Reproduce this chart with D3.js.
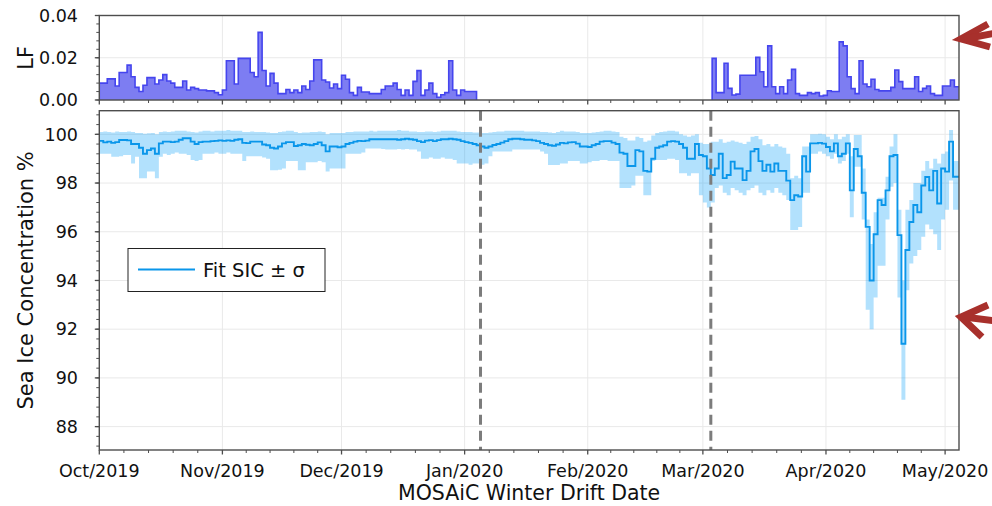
<!DOCTYPE html>
<html><head><meta charset="utf-8">
<script src="https://cdn.jsdelivr.net/npm/d3@7"></script>
<style>body{margin:0;background:#fff} svg{display:block;font-family:"DejaVu Sans",sans-serif}</style>
</head><body><svg id="c" width="992" height="506"></svg>
<script>
// ---------- data ----------
const xStart = "2019-10-01T00:00:00Z";
const xEnd = "2020-05-04T12:00:00Z";
const monthTicks = ["2019-10-01","2019-11-01","2019-12-01","2020-01-01","2020-02-01","2020-03-01","2020-04-01","2020-05-01"];
const eventDates = ["2020-01-05T00:00:00Z","2020-03-03T00:00:00Z"];
const lfTicks = [0, 0.02, 0.04];
const lfDomain = [0, 0.04];
const sicTicks = [88, 90, 92, 94, 96, 98, 100];
const sicDomain = [87.04, 100.97];

// LF, daily steps
const lfStart1 = "2019-10-01T00:00:00Z";
const lf1 = [
 0.008,0.008,0.010,0.010,0.0066,0.013,0.013,0.0165,0.011,0.006,
 0.004,0.007,0.0106,0.0106,0.0076,0.0095,0.012,0.009,0.008,0.006,
 0.006,0.009,0.0047,0.006,0.0054,0.0047,0.0047,0.0043,0.0043,0.0035,
 0.0025,0.0047,0.0186,0.0186,0.0076,0.0197,0.0197,0.0197,0.013,0.011,
 0.032,0.014,0.0066,0.0126,0.008,0.003,0.003,0.005,0.0035,0.0047,
 0.0035,0.0066,0.005,0.009,0.019,0.019,0.0095,0.0085,0.0057,0.0076,
 0.0054,0.0117,0.0098,0.0035,0.0022,0.006,0.0038,0.0038,0.003,0.003,
 0.003,0.005,0.0066,0.0066,0.008,0.005,0.0022,0.0047,0.0022,0.0088,
 0.0139,0.0022,0.0047,0.008,0.003,0.0013,0.0025,0.0035,0.0186,0.0047,
 0.0022,0.0047,0.004,0.004,0.004];
const lfStart2 = "2020-03-03T08:00:00Z";
const lf2 = [
 0.0197,0.0035,0.0035,0.0174,0.0055,0.0024,0.0028,0.0117,0.0117,0.0117,
 0.0117,0.0202,0.0134,0.0063,0.0256,0.0063,0.003,0.0063,0.003,0.0095,
 0.0145,0.003,0.0022,0.0022,0.0035,0.003,0.0035,0.0019,0.0022,0.0044,
 0.004,0.004,0.0275,0.0256,0.011,0.0054,0.003,0.0186,0.0076,0.0063,
 0.0098,0.005,0.0043,0.0043,0.0043,0.006,0.0142,0.0087,0.0054,0.0054,
 0.0054,0.011,0.004,0.0055,0.0066,0.003,0.0022,0.0022,0.0066,0.0066,
 0.0095,0.0063,0.0063];

// Sea ice concentration, daily steps
const sicStart = "2019-10-01T00:00:00Z";
const sicFit = [
 99.73,99.67,99.7,99.65,99.68,99.77,99.77,99.75,99.6,99.6,
 99.45,99.2,99.35,99.42,99.2,99.63,99.7,99.7,99.68,99.7,
 99.78,99.84,99.84,99.7,99.6,99.68,99.7,99.7,99.72,99.73,
 99.75,99.73,99.75,99.73,99.78,99.8,99.65,99.64,99.7,99.7,
 99.7,99.58,99.55,99.45,99.42,99.5,99.63,99.68,99.68,99.52,
 99.55,99.6,99.57,99.55,99.6,99.67,99.55,99.3,99.5,99.5,
 99.47,99.5,99.6,99.65,99.7,99.73,99.72,99.74,99.8,99.8,
 99.8,99.8,99.8,99.8,99.8,99.78,99.8,99.82,99.8,99.78,
 99.72,99.68,99.74,99.76,99.72,99.76,99.8,99.8,99.82,99.8,
 99.78,99.72,99.68,99.65,99.6,99.55,99.5,99.45,99.5,99.56,
 99.6,99.66,99.72,99.8,99.82,99.82,99.8,99.78,99.78,99.75,
 99.72,99.65,99.6,99.55,99.53,99.58,99.65,99.63,99.67,99.68,
 99.62,99.5,99.5,99.48,99.55,99.6,99.7,99.72,99.72,99.66,
 99.6,99.25,99.2,98.7,98.7,99.35,99.3,98.5,98.47,99.0,
 99.45,99.5,99.55,99.7,99.72,99.7,99.6,99.45,99.0,99.0,
 99.6,99.15,99.1,98.6,98.33,98.6,99.2,98.2,98.33,98.88,
 98.6,98.6,98.12,98.5,99.3,99.4,98.9,98.5,98.75,98.47,
 98.8,98.5,98.5,98.1,97.3,97.5,97.45,99.1,98.47,99.63,
 99.63,99.65,99.62,99.48,99.3,99.63,99.1,99.2,99.63,97.7,
 99.4,99.1,97.6,96.2,94.0,95.9,97.3,97.1,97.7,99.1,
 99.15,95.86,91.4,95.25,96.4,97.1,96.8,97.9,98.25,97.7,
 98.5,97.16,98.6,98.47,99.7,98.26,98.26];
const sicLo = [
 99.2,99.2,99.2,99.08,99.08,99.1,99.15,99.15,98.8,99.08,
 98.2,98.2,98.47,98.47,98.2,99.08,99.2,99.15,99.2,99.25,
 99.2,99.2,99.15,98.95,98.9,98.95,99.2,99.2,99.2,99.25,
 99.2,99.2,99.25,99.2,99.2,99.2,98.9,99.1,99.1,99.1,
 99.1,99.05,99.0,98.53,98.53,98.55,98.6,98.9,98.9,98.9,
 98.53,98.53,98.85,98.85,98.85,98.9,98.85,98.47,98.6,98.6,
 98.6,98.6,99.2,99.2,99.2,99.2,99.25,99.42,99.42,99.42,
 99.42,99.4,99.38,99.38,99.38,99.4,99.38,99.4,99.38,99.38,
 99.3,99.0,99.0,99.05,99.0,99.0,99.05,99.0,99.0,98.95,
 98.8,98.8,98.8,98.75,98.8,98.8,98.75,98.8,99.1,99.3,
 99.3,99.3,99.3,99.3,99.38,99.38,99.38,99.38,99.38,99.38,
 99.38,99.3,99.2,98.74,98.74,98.74,98.8,98.8,98.9,98.9,
 98.9,98.8,98.8,98.85,98.9,98.9,98.95,98.95,98.9,98.9,
 98.9,97.8,97.8,97.8,97.9,98.3,98.3,97.5,97.5,98.9,
 98.95,98.95,98.95,99.0,99.0,98.95,98.4,98.4,98.3,98.4,
 98.4,97.5,97.2,97.0,97.2,97.8,97.9,97.6,97.5,97.8,
 97.7,97.6,97.5,97.7,97.8,97.9,97.6,97.5,97.7,97.6,
 97.8,97.6,97.5,97.3,96.07,96.07,96.2,97.6,97.6,99.2,
 99.2,99.3,99.2,99.1,99.0,99.2,98.8,98.9,99.2,96.6,
 98.67,98.67,96.5,92.8,92.0,93.3,94.6,94.6,96.5,97.85,
 98.0,93.3,89.1,93.6,94.7,95.0,95.25,95.8,96.3,96.1,
 95.9,95.25,96.5,96.9,98.1,96.9,96.9];
const sicHi = [
 100.1,100.12,100.1,100.08,100.12,100.1,100.1,100.12,100.1,100.05,
 100.05,100.02,100.04,100.05,100.0,100.1,100.12,100.1,100.12,100.15,
 100.15,100.15,100.12,100.1,100.08,100.12,100.15,100.15,100.12,100.15,
 100.15,100.15,100.18,100.15,100.15,100.15,100.1,100.1,100.12,100.1,
 100.1,100.1,100.08,100.05,100.05,100.1,100.12,100.15,100.15,100.1,
 100.05,100.08,100.08,100.1,100.1,100.12,100.1,100.0,100.05,100.05,
 100.05,100.05,100.1,100.1,100.12,100.12,100.12,100.12,100.15,100.12,
 100.15,100.15,100.15,100.15,100.15,100.18,100.15,100.15,100.12,100.12,
 100.1,100.1,100.12,100.12,100.1,100.12,100.15,100.15,100.15,100.15,
 100.12,100.1,100.1,100.1,100.08,100.08,100.05,100.05,100.08,100.1,
 100.12,100.12,100.15,100.15,100.15,100.15,100.15,100.12,100.12,100.12,
 100.12,100.1,100.1,100.08,100.05,100.1,100.15,100.12,100.12,100.12,
 100.1,100.05,100.05,100.05,100.08,100.1,100.12,100.15,100.15,100.12,
 100.1,99.9,99.85,99.75,99.75,99.9,99.85,99.7,99.75,99.95,
 100.05,100.1,100.12,100.15,100.15,100.12,100.0,99.95,99.9,99.95,
 100.0,99.65,99.6,99.6,99.7,99.7,99.8,99.65,99.7,99.75,
 99.7,99.65,99.6,99.7,99.9,99.93,99.8,99.55,99.6,99.5,
 99.6,99.5,99.45,99.2,98.2,98.3,98.2,99.5,99.5,100.0,
 100.0,100.02,100.0,99.9,99.8,100.0,99.8,99.9,100.0,99.1,
 99.97,99.97,98.6,96.5,95.5,96.8,97.4,97.4,98.26,99.5,
 100.0,96.9,94.0,96.9,97.3,98.0,98.0,98.5,98.9,98.6,
 99.0,98.8,99.2,99.3,100.18,98.9,98.9];

// ---------- drawing ----------
const svg = d3.select("#c");
const P = d3.isoParse;
const L = 99.3, R = 959;
const topT = 15.5, topB = 100, mainT = 110.7, mainB = 450;
const x = d3.scaleUtc().domain([P(xStart), P(xEnd)]).range([L, R]);
const yTop = d3.scaleLinear().domain(lfDomain).range([topB, topT]);
const yMain = d3.scaleLinear().domain(sicDomain).range([mainB, mainT]);
const frameCol = "#4d4d4d", gridCol = "#e9e9e9";

function stepPts(start, vals, extra) {
  const s = P(start);
  const pts = vals.map((v, i) => Object.assign({d: d3.utcDay.offset(s, i), v}, extra ? {lo: extra.lo[i], hi: extra.hi[i]} : {}));
  const last = pts[pts.length - 1];
  pts.push(Object.assign({}, last, {d: d3.utcDay.offset(s, vals.length)}));
  return pts;
}

const defs = svg.append("defs");
defs.append("clipPath").attr("id", "clipTop").append("rect").attr("x", L).attr("y", topT).attr("width", R - L).attr("height", topB - topT);
defs.append("clipPath").attr("id", "clipMain").append("rect").attr("x", L).attr("y", mainT).attr("width", R - L).attr("height", mainB - mainT);

const months = monthTicks.map(d => P(d + "T00:00:00Z"));
const minorX = [];
for (let i = 0; i < months.length; i++) {
  const a = months[i], b = i + 1 < months.length ? months[i + 1] : d3.utcMonth.offset(a, 1);
  for (let j = 1; j < 5; j++) {
    const t = new Date(+a + (b - a) * j / 5);
    if (t <= x.domain()[1]) minorX.push(t);
  }
}

// ---- grids ----
function vgrid(y0, y1) {
  svg.append("g").selectAll("line").data(months).join("line")
    .attr("x1", d => x(d)).attr("x2", d => x(d)).attr("y1", y0).attr("y2", y1)
    .attr("stroke", gridCol).attr("stroke-width", 1);
}
vgrid(topT, topB); vgrid(mainT, mainB);
svg.append("g").selectAll("line").data(lfTicks).join("line")
  .attr("x1", L).attr("x2", R).attr("y1", d => yTop(d)).attr("y2", d => yTop(d))
  .attr("stroke", gridCol);
svg.append("g").selectAll("line").data(sicTicks).join("line")
  .attr("x1", L).attr("x2", R).attr("y1", d => yMain(d)).attr("y2", d => yMain(d))
  .attr("stroke", gridCol);

// ---- LF panel ----
const gTop = svg.append("g").attr("clip-path", "url(#clipTop)");
[[lfStart1, lf1], [lfStart2, lf2]].forEach(([s, vals]) => {
  const pts = stepPts(s, vals);
  gTop.append("path").datum(pts)
    .attr("d", d3.area().curve(d3.curveStepAfter).x(p => x(p.d)).y0(yTop(0)).y1(p => yTop(p.v)))
    .attr("fill", "#7d7df2");
  const outline = [{d: pts[0].d, v: 0}].concat(pts, [{d: pts[pts.length - 1].d, v: 0}]);
  gTop.append("path").datum(outline)
    .attr("d", d3.line().curve(d3.curveStepAfter).x(p => x(p.d)).y(p => yTop(p.v)))
    .attr("fill", "none").attr("stroke", "#4545ee").attr("stroke-width", 1.6);
});

// ---- SIC panel ----
const gMain = svg.append("g").attr("clip-path", "url(#clipMain)");
const sp = stepPts(sicStart, sicFit, {lo: sicLo, hi: sicHi});
gMain.append("path").datum(sp)
  .attr("d", d3.area().curve(d3.curveStepAfter).x(p => x(p.d)).y0(p => yMain(p.lo)).y1(p => yMain(p.hi)))
  .attr("fill", "#009afa").attr("fill-opacity", 0.3);
gMain.append("path").datum(sp)
  .attr("d", d3.line().curve(d3.curveStepAfter).x(p => x(p.d)).y(p => yMain(p.v)))
  .attr("fill", "none").attr("stroke", "#0a96ea").attr("stroke-width", 1.9);

// event lines
svg.append("g").selectAll("line").data(eventDates.map(P)).join("line")
  .attr("x1", d => x(d)).attr("x2", d => x(d)).attr("y1", mainT).attr("y2", mainB)
  .attr("stroke", "#7c7c7c").attr("stroke-width", 3).attr("stroke-dasharray", "10,6");

// legend
const lg = svg.append("g");
lg.append("rect").attr("x", 128).attr("y", 248.5).attr("width", 197).attr("height", 43)
  .attr("fill", "#fff").attr("stroke", "#222").attr("stroke-width", 1);
lg.append("line").attr("x1", 138).attr("x2", 195).attr("y1", 269.5).attr("y2", 269.5)
  .attr("stroke", "#0a96ea").attr("stroke-width", 1.9);
lg.append("text").attr("x", 203).attr("y", 276.5).attr("font-size", 19.5).attr("fill", "#111").text("Fit SIC ± σ");

// ---- frames, ticks, labels ----
function frame(y0, y1) {
  svg.append("rect").attr("x", L).attr("y", y0).attr("width", R - L).attr("height", y1 - y0)
    .attr("fill", "none").attr("stroke", frameCol).attr("stroke-width", 1.4);
}
frame(topT, topB); frame(mainT, mainB);

function xticks(yb) {
  svg.append("g").selectAll("line").data(months).join("line")
    .attr("x1", d => x(d)).attr("x2", d => x(d)).attr("y1", yb).attr("y2", yb + 4.5)
    .attr("stroke", frameCol).attr("stroke-width", 1.3);
  svg.append("g").selectAll("line").data(minorX).join("line")
    .attr("x1", d => x(d)).attr("x2", d => x(d)).attr("y1", yb).attr("y2", yb + 3)
    .attr("stroke", frameCol).attr("stroke-width", 1);
}
xticks(topB); xticks(mainB);

function yticks(scale, major, minorStep) {
  const [a, b] = scale.domain();
  const minor = d3.range(Math.ceil(a / minorStep - 1e-6) * minorStep, b + 1e-9, minorStep);
  svg.append("g").selectAll("line").data(minor).join("line")
    .attr("x1", L - 3).attr("x2", L).attr("y1", d => scale(d)).attr("y2", d => scale(d))
    .attr("stroke", frameCol).attr("stroke-width", 1);
  svg.append("g").selectAll("line").data(major).join("line")
    .attr("x1", L - 4.5).attr("x2", L).attr("y1", d => scale(d)).attr("y2", d => scale(d))
    .attr("stroke", frameCol).attr("stroke-width", 1.3);
}
yticks(yTop, lfTicks, 0.004);
yticks(yMain, sicTicks, 0.4);

const fmtLF = d3.format(".2f");
svg.append("g").selectAll("text").data(lfTicks).join("text")
  .attr("x", 78).attr("y", d => yTop(d) + 6.3).attr("text-anchor", "end")
  .attr("font-size", 17.5).attr("fill", "#111").text(d => fmtLF(d));
svg.append("g").selectAll("text").data(sicTicks).join("text")
  .attr("x", 78).attr("y", d => yMain(d) + 6.3).attr("text-anchor", "end")
  .attr("font-size", 17.5).attr("fill", "#111").text(d => d);
const fmtM = d3.utcFormat("%b/%Y");
svg.append("g").selectAll("text").data(months).join("text")
  .attr("x", d => x(d)).attr("y", 477).attr("text-anchor", "middle")
  .attr("font-size", 17.5).attr("fill", "#111").text(d => fmtM(d));

svg.append("text").attr("x", (L + R) / 2).attr("y", 500).attr("text-anchor", "middle")
  .attr("font-size", 20.5).attr("fill", "#111").text("MOSAiC Winter Drift Date");
svg.append("text").attr("transform", `translate(33,${(mainT + mainB) / 2}) rotate(-90)`)
  .attr("text-anchor", "middle").attr("font-size", 21).attr("fill", "#111").text("Sea Ice Concentration %");
svg.append("text").attr("transform", `translate(33,${(topT + topB) / 2}) rotate(-90)`)
  .attr("text-anchor", "middle").attr("font-size", 21).attr("fill", "#111").text("LF");

// ---- annotation arrows ----
const arrowCol = "#a8302c";
function arrow(tip, b1, b2, tail) {
  const g = svg.append("g").attr("fill", "none").attr("stroke", arrowCol).attr("stroke-width", 7)
    .attr("stroke-linejoin", "miter").attr("stroke-linecap", "butt");
  g.append("path").attr("d", `M${b1[0]},${b1[1]}L${tip[0]},${tip[1]}L${b2[0]},${b2[1]}`);
  g.append("path").attr("d", `M${tip[0] + 3},${tip[1]}L${tail[0]},${tail[1]}`);
}
arrow([961, 39], [988, 24], [990, 47], [996, 33]);
arrow([961, 317], [988, 305], [982, 337], [996, 321]);
</script></body></html>
